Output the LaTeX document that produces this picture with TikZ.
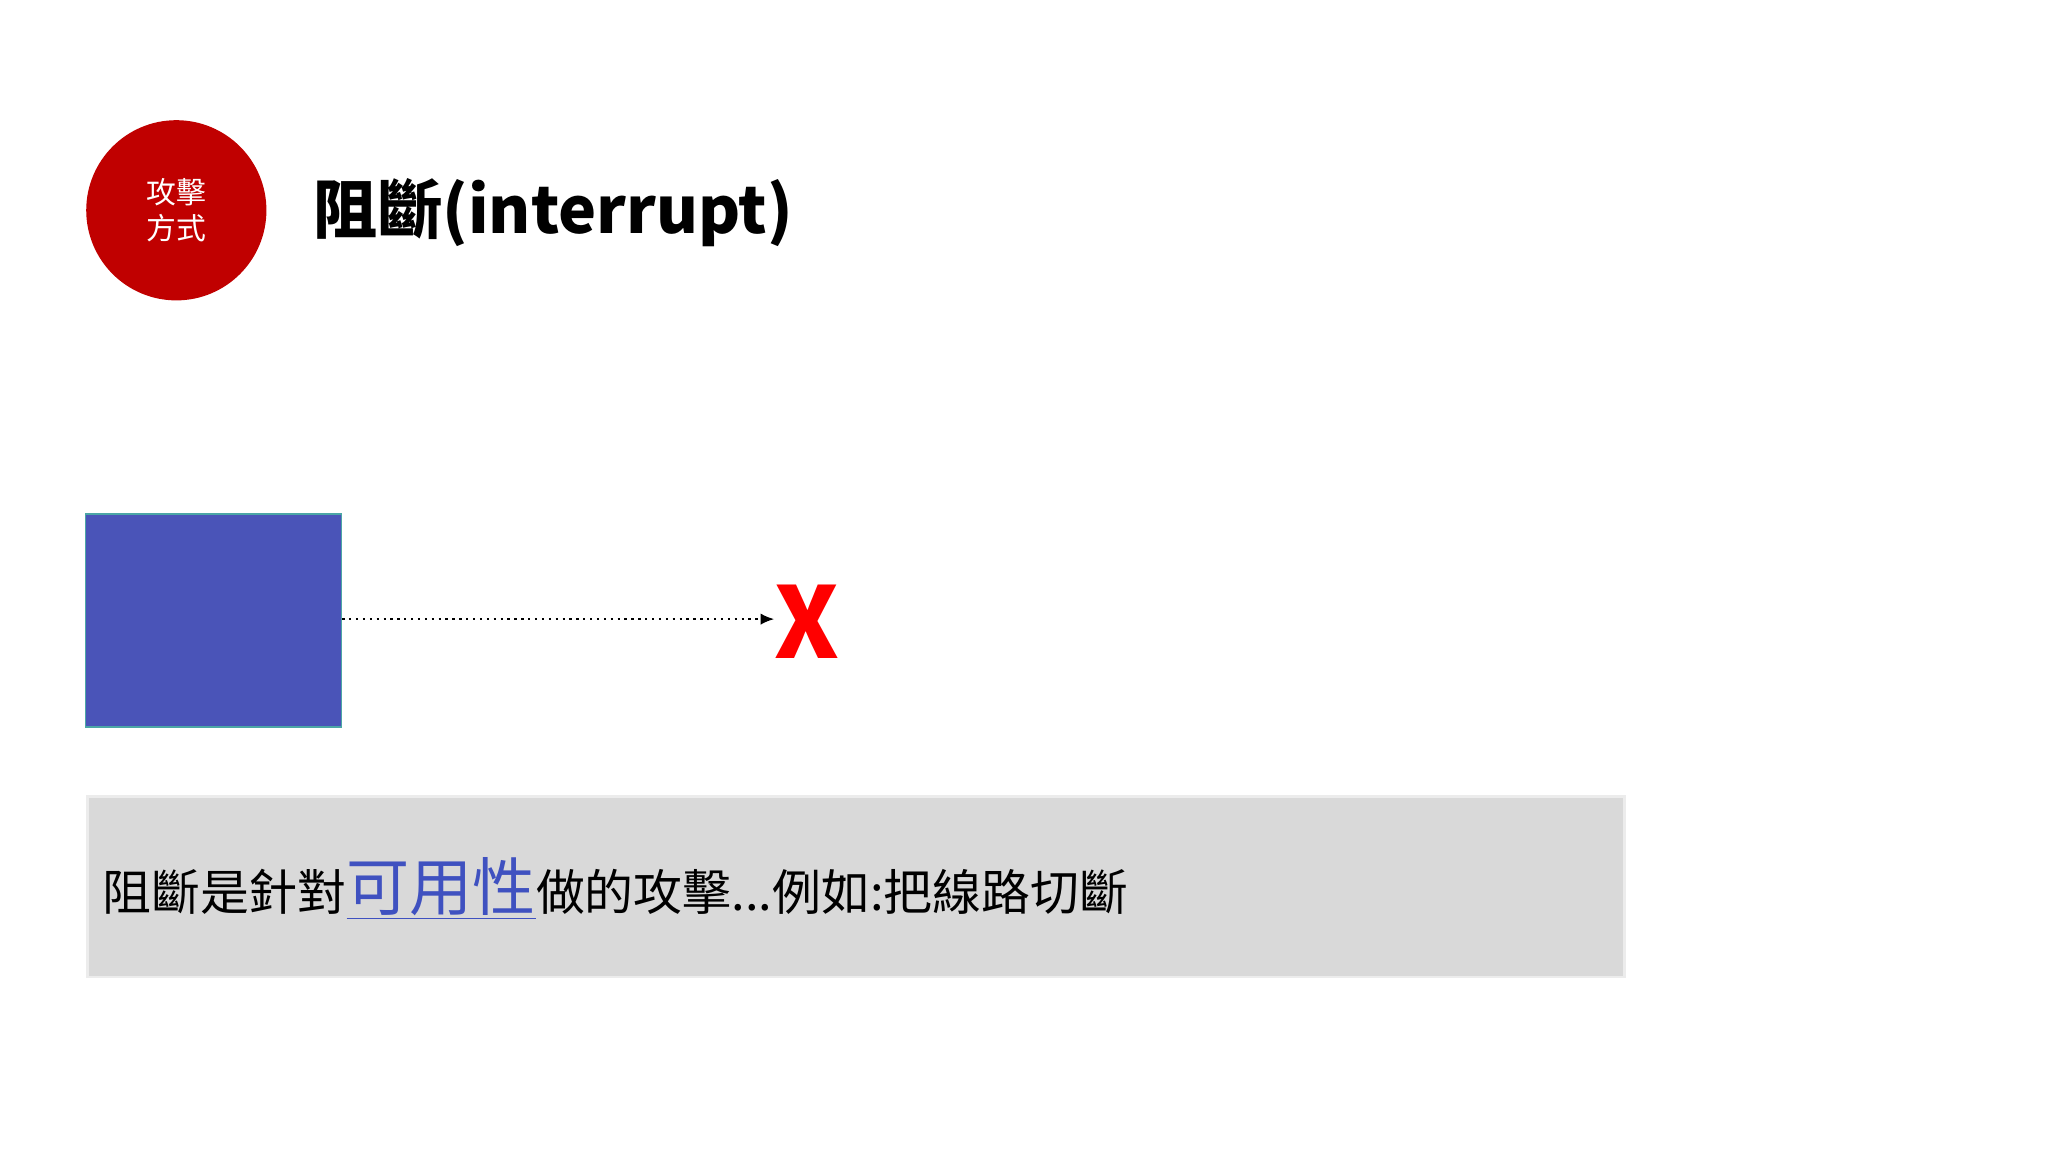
\documentclass[tikz,border=0pt]{standalone}
\usepackage{fontspec}
\setmainfont{Noto Sans CJK TC}
\usetikzlibrary{arrows.meta}
\definecolor{cred}{HTML}{C00000}
\definecolor{cblue}{HTML}{4A54B8}
\definecolor{ulblue}{HTML}{3F51C0}
\tikzset{x=0.02cm,y=-0.02cm}
\begin{document}
\begin{tikzpicture}
\useasboundingbox (0,0) rectangle (1568,882);
\node[circle,fill=cred,minimum size=2.76cm,inner sep=0pt,text=white,align=center,font=\fontsize{13pt}{16pt}\selectfont] (badge) at (135,161) {攻擊\\方式};
\node[anchor=west,inner sep=0pt,font=\fontsize{28pt}{34pt}\selectfont\bfseries] (title) at (240,163) {阻斷(interrupt)};
\node[draw=teal!70,line width=0.6pt,fill=cblue,minimum width=3.92cm,minimum height=3.26cm,inner sep=0pt,anchor=north west] (box) at (65,393) {};
\node[text=red,font=\fontsize{43pt}{48pt}\selectfont\bfseries,inner sep=0pt] (x) at (618,476) {X};
\draw[dotted,line width=1pt,-{Latex[length=6pt,width=5pt]}] (box.east |- 0,474) -- (x.west |- 0,474);
\node[draw=gray!15,line width=1pt,fill=gray!30,minimum width=23.54cm,minimum height=2.76cm,inner sep=0pt,anchor=north west] (panel) at (66,609) {};
\node[anchor=base west,inner sep=0pt,font=\fontsize{21.3pt}{24pt}\selectfont] (txt) at (78,697) {阻斷是針對\textcolor{ulblue}{\fontsize{27.5pt}{28pt}\selectfont\underline{可用性}}做的攻擊...例如:把線路切斷};
\end{tikzpicture}
\end{document}
